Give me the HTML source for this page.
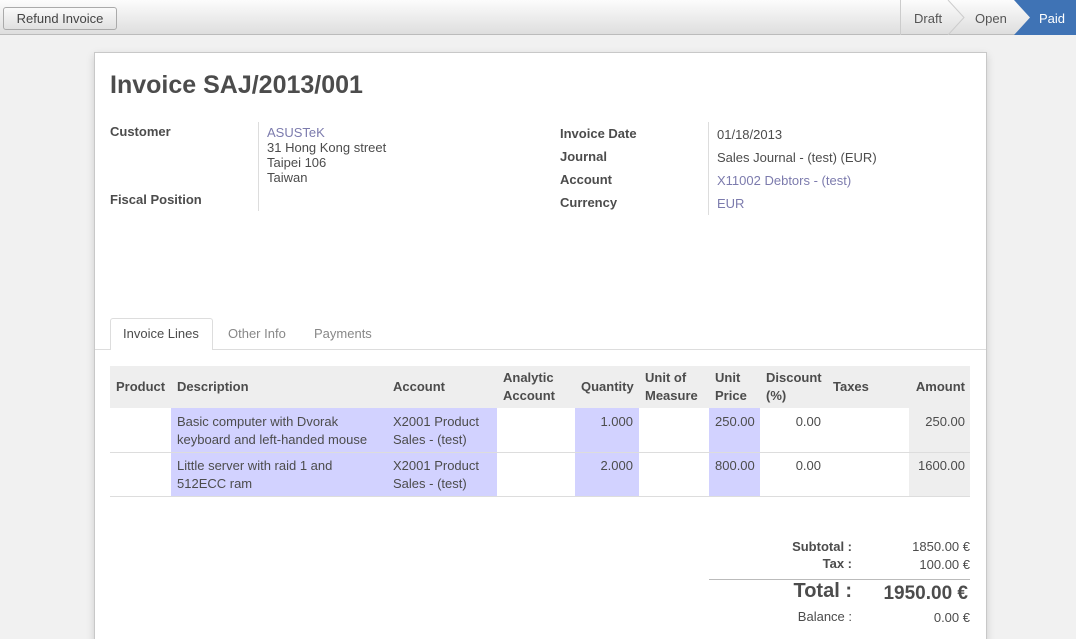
<!DOCTYPE html>
<html><head><meta charset="utf-8"><style>
*{margin:0;padding:0;box-sizing:border-box}
html,body{width:1076px;height:639px;overflow:hidden}
body{font-family:"Liberation Sans",sans-serif;font-size:13px;color:#4c4c4c;background:#f1f1f1;position:relative}
.a{position:absolute;white-space:nowrap}
.top{left:0;top:0;width:1076px;height:35px;background:linear-gradient(#fcfcfc,#dedede);border-bottom:1px solid #bbb}
.btn{left:3px;top:7px;width:114px;height:23px;border:1px solid #aaa;border-radius:3px;background:linear-gradient(#fafafa,#e0e0e0);text-align:center;line-height:21px;color:#444}
.sheet{left:94px;top:52px;width:893px;height:600px;background:#fff;border:1px solid #c8c8c8;box-shadow:0 3px 8px rgba(0,0,0,.15)}
.lb{font-weight:bold;color:#4c4c4c}
.lk{color:#7c7bad}
.bl{background:#d2d2ff}
.th{font-weight:bold;line-height:18px}
</style></head><body>
<div class="a top"></div>
<div class="a btn">Refund Invoice</div>
<div class="a" style="left:900px;top:0;width:1px;height:35px;background:#ccc"></div>
<svg class="a" style="left:900px;top:0" width="176" height="35">
<polyline points="48,0 64,17.5 48,35" fill="none" stroke="#ccc"/>
<polygon points="114,0 176,0 176,35 114,35 130,17.5" fill="#3f73b5"/>
</svg>
<div class="a" style="left:914px;top:11px;color:#555">Draft</div>
<div class="a" style="left:975px;top:11px;color:#555">Open</div>
<div class="a" style="left:1039px;top:11px;color:#fff">Paid</div>

<div class="a sheet"></div>
<div class="a" style="left:110px;top:71px;font-size:25px;font-weight:bold;color:#4c4c4c">Invoice SAJ/2013/001</div>

<div class="a lb" style="left:110px;top:124px">Customer</div>
<div class="a lb" style="left:110px;top:192px">Fiscal Position</div>
<div class="a" style="left:258px;top:122px;width:1px;height:89px;background:#ddd"></div>
<div class="a" style="left:267px;top:125px;line-height:15px"><span class="lk">ASUSTeK</span><br>31 Hong Kong street<br>Taipei 106<br>Taiwan</div>

<div class="a lb" style="left:560px;top:122px;line-height:23px">Invoice Date<br>Journal<br>Account<br>Currency</div>
<div class="a" style="left:708px;top:122px;width:1px;height:93px;background:#ddd"></div>
<div class="a" style="left:717px;top:123px;line-height:23px">01/18/2013<br>Sales Journal - (test) (EUR)<br><span class="lk">X11002 Debtors - (test)</span><br><span class="lk">EUR</span></div>

<div class="a" style="left:95px;top:349px;width:891px;height:1px;background:#ddd"></div>
<div class="a" style="left:110px;top:318px;width:103px;height:32px;border:1px solid #ddd;border-bottom:none;background:#fff;border-radius:3px 3px 0 0"></div>
<div class="a" style="left:123px;top:326px">Invoice Lines</div>
<div class="a" style="left:228px;top:326px;color:#888">Other Info</div>
<div class="a" style="left:314px;top:326px;color:#888">Payments</div>

<div class="a" style="left:110px;top:366px;width:860px;height:42px;background:#eee"></div>
<div class="a bl" style="left:171px;top:408px;width:326px;height:88px"></div>
<div class="a bl" style="left:575px;top:408px;width:64px;height:88px"></div>
<div class="a bl" style="left:709px;top:408px;width:51px;height:88px"></div>
<div class="a" style="left:909px;top:408px;width:61px;height:88px;background:#eee"></div>
<div class="a" style="left:110px;top:452px;width:860px;height:1px;background:#ddd"></div>
<div class="a" style="left:110px;top:496px;width:860px;height:1px;background:#ddd"></div>

<div class="a th" style="left:116px;top:378px">Product</div>
<div class="a th" style="left:177px;top:378px">Description</div>
<div class="a th" style="left:393px;top:378px">Account</div>
<div class="a th" style="left:503px;top:369px">Analytic<br>Account</div>
<div class="a th" style="left:581px;top:378px">Quantity</div>
<div class="a th" style="left:645px;top:369px">Unit of<br>Measure</div>
<div class="a th" style="left:715px;top:369px">Unit<br>Price</div>
<div class="a th" style="left:766px;top:369px">Discount<br>(%)</div>
<div class="a th" style="left:833px;top:378px">Taxes</div>
<div class="a th" style="left:915px;top:378px;width:50px;text-align:right">Amount</div>

<div class="a" style="left:177px;top:413px;line-height:18px">Basic computer with Dvorak<br>keyboard and left-handed mouse</div>
<div class="a" style="left:393px;top:413px;line-height:18px">X2001 Product<br>Sales - (test)</div>
<div class="a" style="left:575px;top:414px;width:58px;text-align:right">1.000</div>
<div class="a" style="left:715px;top:414px">250.00</div>
<div class="a" style="left:760px;top:414px;width:61px;text-align:right">0.00</div>
<div class="a" style="left:909px;top:414px;width:56px;text-align:right">250.00</div>

<div class="a" style="left:177px;top:457px;line-height:18px">Little server with raid 1 and<br>512ECC ram</div>
<div class="a" style="left:393px;top:457px;line-height:18px">X2001 Product<br>Sales - (test)</div>
<div class="a" style="left:575px;top:458px;width:58px;text-align:right">2.000</div>
<div class="a" style="left:715px;top:458px">800.00</div>
<div class="a" style="left:760px;top:458px;width:61px;text-align:right">0.00</div>
<div class="a" style="left:909px;top:458px;width:56px;text-align:right">1600.00</div>

<div class="a lb" style="left:700px;top:539px;width:152px;text-align:right">Subtotal :</div>
<div class="a lb" style="left:700px;top:556px;width:152px;text-align:right">Tax :</div>
<div class="a" style="left:860px;top:539px;width:110px;text-align:right">1850.00 €</div>
<div class="a" style="left:860px;top:557px;width:110px;text-align:right">100.00 €</div>
<div class="a" style="left:709px;top:579px;width:261px;height:1px;background:#bbb"></div>
<div class="a" style="left:700px;top:580px;width:152px;text-align:right;font-size:20px;font-weight:bold">Total :</div>
<div class="a" style="left:840px;top:583px;width:128px;text-align:right;font-size:19px;font-weight:bold">1950.00 €</div>
<div class="a" style="left:700px;top:609px;width:152px;text-align:right">Balance :</div>
<div class="a" style="left:860px;top:610px;width:110px;text-align:right">0.00 €</div>
</body></html>
